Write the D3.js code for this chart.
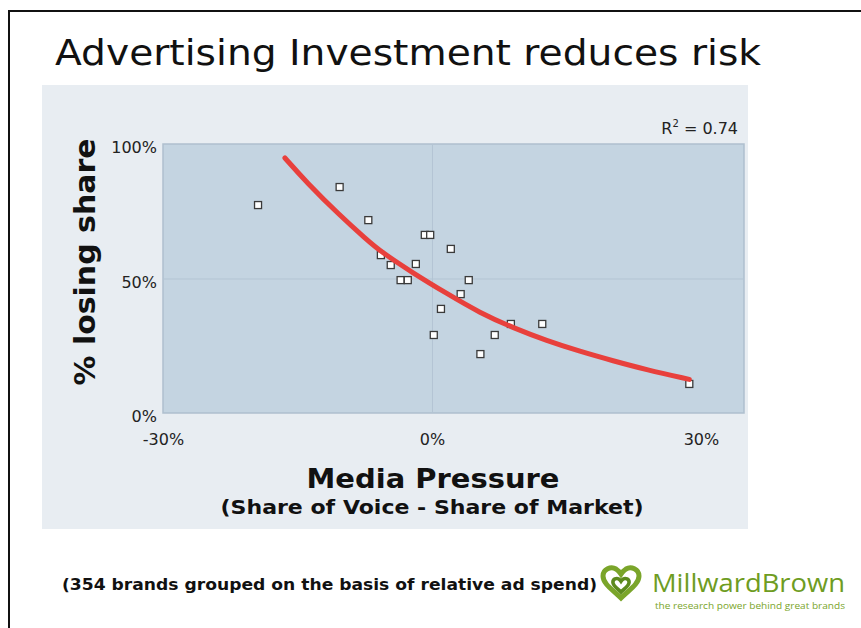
<!DOCTYPE html>
<html>
<head>
<meta charset="utf-8">
<script src="https://cdn.jsdelivr.net/npm/d3@7"></script>
<style>
  body { margin: 0; background: #fff; }
  text { font-family: "DejaVu Sans", Verdana, sans-serif; }
</style>
</head>
<body>
<script>
// media pressure (%), share of brands losing share (%)
var pressure = [-19.4, -10.3, -7.1, -5.7, -4.6, -3.5, -2.7, -1.8, -0.8, -0.2, 2.1, 4.1, 3.2, 1.0, 0.2, 7.0, 5.4, 8.8, 12.3, 28.7];
var losing   = [77.3, 84.0, 71.7, 58.7, 55.0, 49.4, 49.4, 55.4, 66.2, 66.2, 61.0, 49.4, 44.2, 38.7, 29.0, 29.0, 21.9, 33.1, 33.1, 10.8];

// fitted trend line
var trendX = [-16.4, -14.0, -10.3, -7.3, -5.8, -2.1, 1.6, 5.35, 9.1, 12.8, 16.5, 20.2, 23.9, 28.7];
var trendY = [94.8, 85.8, 73.5, 64.5, 60.2, 52.0, 44.5, 37.2, 31.6, 26.9, 22.9, 19.4, 16.1, 12.5];

var xTicks = [-30, 0, 30];
var yTicks = [0, 50, 100];

var W = 861, H = 628;
var svg = d3.select("body").append("svg")
    .attr("width", W)
    .attr("height", H);

// frame
svg.append("path")
    .attr("d", "M9," + H + "V11H" + W)
    .attr("fill", "none")
    .attr("stroke", "#111")
    .attr("stroke-width", 2);

svg.append("text")
    .attr("x", 55).attr("y", 65)
    .attr("font-size", 35)
    .attr("textLength", 706)
    .attr("lengthAdjust", "spacingAndGlyphs")
    .attr("fill", "#111")
    .text("Advertising Investment reduces risk");

// grey panel
svg.append("rect")
    .attr("x", 42).attr("y", 85)
    .attr("width", 706).attr("height", 444)
    .attr("fill", "#e8edf2");

var pLeft = 163, pRight = 744, pTop = 144, pBottom = 413;

var x = d3.scaleLinear().domain([-30, 34.8]).range([pLeft, pRight]);
var y = d3.scaleLinear().domain([0, 100]).range([pBottom, pTop]);

svg.append("rect")
    .attr("x", pLeft).attr("y", pTop)
    .attr("width", pRight - pLeft).attr("height", pBottom - pTop)
    .attr("fill", "#c4d4e1")
    .attr("stroke", "#aebfce")
    .attr("stroke-width", 1.5);

// grid lines
svg.append("g")
    .attr("transform", "translate(" + pLeft + ",0)")
    .call(d3.axisLeft(y).tickValues([50]).tickSize(-(pRight - pLeft)).tickFormat(""))
    .call(function(g) { g.select(".domain").remove(); })
    .selectAll("line").attr("stroke", "#b3c4d3");

svg.append("g")
    .attr("transform", "translate(0," + pBottom + ")")
    .call(d3.axisBottom(x).tickValues([0]).tickSize(-(pBottom - pTop)).tickFormat(""))
    .call(function(g) { g.select(".domain").remove(); })
    .selectAll("line").attr("stroke", "#b3c4d3");

// tick labels
var yAxis = svg.append("g")
    .attr("transform", "translate(" + (pLeft - 6) + ",0)")
    .call(d3.axisLeft(y).tickValues(yTicks).tickSize(0).tickPadding(0)
        .tickFormat(function(d) { return d + "%"; }));
yAxis.select(".domain").remove();
yAxis.selectAll("text")
    .attr("font-family", "DejaVu Sans, sans-serif")
    .attr("font-size", 16)
    .attr("fill", "#222")
    .attr("dy", "0.55em");

var xAxis = svg.append("g")
    .attr("transform", "translate(0," + (pBottom + 21) + ")")
    .call(d3.axisBottom(x).tickValues(xTicks).tickSize(0).tickPadding(0)
        .tickFormat(function(d) { return d + "%"; }));
xAxis.select(".domain").remove();
xAxis.selectAll("text")
    .attr("font-family", "DejaVu Sans, sans-serif")
    .attr("font-size", 16)
    .attr("fill", "#222");

// axis titles
svg.append("text")
    .attr("transform", "translate(95,262) rotate(-90)")
    .attr("text-anchor", "middle")
    .attr("font-size", 28)
    .attr("font-weight", "bold")
    .attr("textLength", 247)
    .attr("lengthAdjust", "spacingAndGlyphs")
    .attr("fill", "#111")
    .text("% losing share");

svg.append("text")
    .attr("x", 433).attr("y", 488)
    .attr("text-anchor", "middle")
    .attr("font-size", 27)
    .attr("font-weight", "bold")
    .attr("textLength", 253)
    .attr("lengthAdjust", "spacingAndGlyphs")
    .attr("fill", "#111")
    .text("Media Pressure");

svg.append("text")
    .attr("x", 432).attr("y", 514)
    .attr("text-anchor", "middle")
    .attr("font-size", 19)
    .attr("font-weight", "bold")
    .attr("textLength", 423)
    .attr("lengthAdjust", "spacingAndGlyphs")
    .attr("fill", "#111")
    .text("(Share of Voice - Share of Market)");

// R squared
var r2 = svg.append("text")
    .attr("x", 738).attr("y", 134)
    .attr("text-anchor", "end")
    .attr("font-size", 16)
    .attr("fill", "#222");
r2.append("tspan").text("R");
r2.append("tspan").attr("font-size", 10).attr("dy", -7).text("2");
r2.append("tspan").attr("dy", 7).text(" = 0.74");

// points
var pts = d3.range(pressure.length).map(function(i) { return [pressure[i], losing[i]]; });
var trend = d3.range(trendX.length).map(function(i) { return [trendX[i], trendY[i]]; });

svg.selectAll("rect.pt")
    .data(pts).enter()
    .append("rect")
    .attr("class", "pt")
    .attr("x", function(d) { return x(d[0]) - 3.5; })
    .attr("y", function(d) { return y(d[1]) - 3.5; })
    .attr("width", 7).attr("height", 7)
    .attr("fill", "#fff")
    .attr("stroke", "#3a3a3a")
    .attr("stroke-width", 1.3);

svg.append("path")
    .datum(trend)
    .attr("d", d3.line()
        .x(function(d) { return x(d[0]); })
        .y(function(d) { return y(d[1]); })
        .curve(d3.curveBasis))
    .attr("fill", "none")
    .attr("stroke", "#e8403c")
    .attr("stroke-width", 5)
    .attr("stroke-linecap", "round");

// footer
svg.append("text")
    .attr("x", 62).attr("y", 590)
    .attr("font-size", 15)
    .attr("font-weight", "bold")
    .attr("textLength", 535)
    .attr("lengthAdjust", "spacingAndGlyphs")
    .attr("fill", "#111")
    .text("(354 brands grouped on the basis of relative ad spend)");

// logo
var logo = svg.append("g").attr("transform", "translate(621,584)");
var heart = "M0,14 C-8,6 -18,0 -18,-8 C-18,-15 -10,-18 -5,-15 C-2,-13 0,-10 0,-10 C0,-10 2,-13 5,-15 C10,-18 18,-15 18,-8 C18,0 8,6 0,14 Z";
logo.append("path").attr("d", heart)
    .attr("fill", "none").attr("stroke", "#7aa52a").attr("stroke-width", 5);
logo.append("path").attr("d", heart).attr("transform", "scale(0.45) translate(0,4)")
    .attr("fill", "none").attr("stroke", "#5c8a1e").attr("stroke-width", 8);

svg.append("text")
    .attr("x", 652).attr("y", 592)
    .attr("font-size", 25)
    .attr("textLength", 193)
    .attr("lengthAdjust", "spacingAndGlyphs")
    .attr("fill", "#6e9c22")
    .style("font-family", "Open Sans, sans-serif")
    .text("MillwardBrown");

svg.append("text")
    .attr("x", 655).attr("y", 609)
    .attr("font-size", 9)
    .attr("textLength", 190)
    .attr("lengthAdjust", "spacingAndGlyphs")
    .attr("fill", "#7aa52a")
    .style("font-family", "Open Sans, sans-serif")
    .text("the research power behind great brands");
</script>
</body>
</html>
